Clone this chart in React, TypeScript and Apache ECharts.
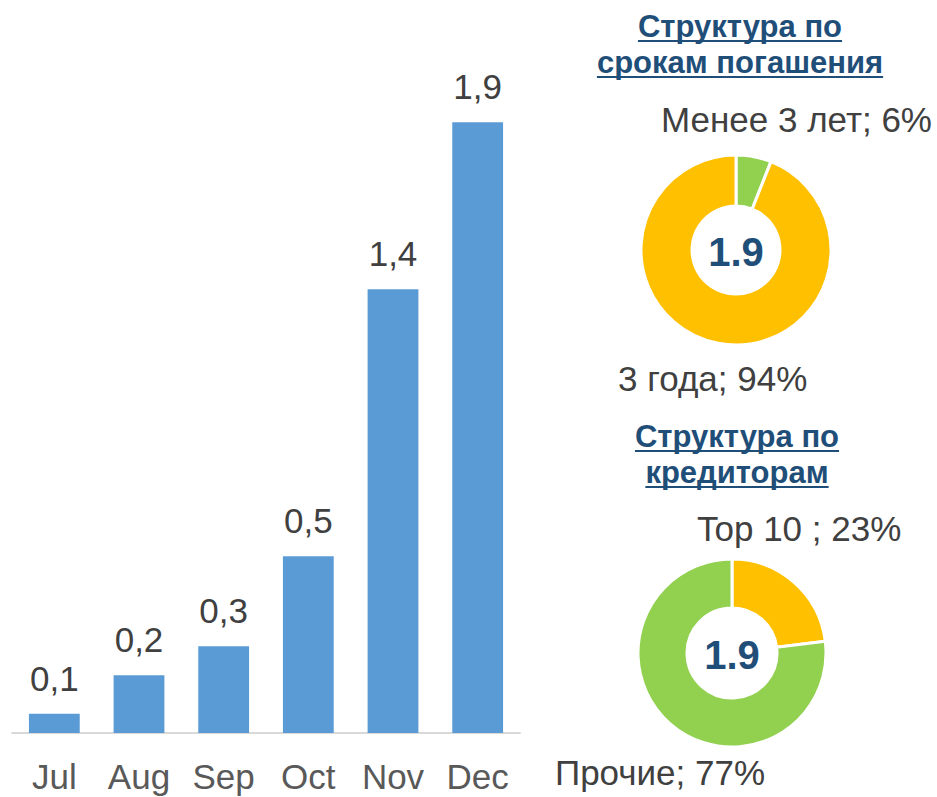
import React, { useEffect, useRef } from "react";
import * as echarts from "echarts";

const months = ["Jul", "Aug", "Sep", "Oct", "Nov", "Dec"];
const monthValues = [0.06, 0.18, 0.27, 0.55, 1.38, 1.9];
const monthLabels = ["0,1", "0,2", "0,3", "0,5", "1,4", "1,9"];

const maturityNames = ["Менее 3 лет", "3 года"];
const maturityShares = [6, 94];
const creditorNames = ["Top 10 ", "Прочие"];
const creditorShares = [23, 77];
const pieTotals = ["1.9", "1.9"];
const pieTitles = [["Структура по", "срокам погашения"], ["Структура по", "кредиторам"]];

const FONT = "'Liberation Sans', Arial, Helvetica, sans-serif";
const BLUE = "#5B9BD5";
const YELLOW = "#FFC000";
const GREEN = "#92D050";
const TITLE = "#1F4E79";
const TEXT = "#404040";

function measure(text: string, font: string): number {
  const c = document.createElement("canvas");
  const ctx = c.getContext("2d");
  if (!ctx) return text.length * 15;
  ctx.font = font;
  return ctx.measureText(text).width;
}

export default function App() {
  const ref = useRef<HTMLDivElement>(null);
  useEffect(() => {
    if (!ref.current) return;
    const chart = echarts.init(ref.current, null, { renderer: "svg" });

    const titleFont = `bold 31px ${FONT}`;
    const titlePos = [
      { x: 740, ys: [26, 62] },
      { x: 737, ys: [436, 472] },
    ];
    const titleGraphics: any[] = [];
    const underlines: any[] = [];
    pieTitles.forEach((lines, i) => {
      lines.forEach((line, j) => {
        const x = titlePos[i].x;
        const y = titlePos[i].ys[j];
        titleGraphics.push({
          type: "text",
          x,
          y,
          style: {
            text: line,
            fill: TITLE,
            font: titleFont,
            align: "center",
            verticalAlign: "middle",
          },
          z: 10,
        });
        const w = measure(line, titleFont);
        underlines.push({
          type: "line",
          shape: { x1: x - w / 2, y1: y + 15, x2: x + w / 2, y2: y + 15 },
          style: { stroke: TITLE, lineWidth: 2 },
          z: 10,
        });
      });
    });

    const centers = [
      [736, 250],
      [732, 653],
    ];
    const totalGraphics = pieTotals.map((t, i) => ({
      type: "text",
      x: centers[i][0],
      y: centers[i][1] + 2,
      style: {
        text: t,
        fill: TITLE,
        font: `bold 40px ${FONT}`,
        align: "center",
        verticalAlign: "middle",
      },
      z: 10,
    }));

    const labelPos1 = [
      { x: 932, y: 119, align: "right" },
      { x: 618, y: 378, align: "left" },
    ];
    const labelPos2 = [
      { x: 697, y: 528, align: "left" },
      { x: 555, y: 772, align: "left" },
    ];

    const pieSeries = (names: string[], shares: number[], colors: string[], center: number[], radius: number[], pos: any[]) => ({
      type: "pie",
      center,
      radius,
      startAngle: 90,
      clockwise: true,
      avoidLabelOverlap: false,
      data: names.map((n, i) => ({ name: n, value: shares[i], itemStyle: { color: colors[i] } })),
      itemStyle: { borderColor: "#fff", borderWidth: 3 },
      label: {
        show: true,
        position: "outside",
        formatter: (p: any) => `${p.name}; ${p.value}%`,
        color: TEXT,
        fontFamily: FONT,
        fontSize: 35,
      },
      labelLine: { show: false },
      labelLayout: (p: any) => ({
        x: pos[p.dataIndex].x,
        y: pos[p.dataIndex].y,
        align: pos[p.dataIndex].align,
        verticalAlign: "middle",
      }),
      emphasis: { disabled: true },
    });

    chart.setOption({
      animation: false,
      grid: { left: 12, right: 417, top: 90, bottom: 64, containLabel: false },
      xAxis: {
        type: "category",
        data: months,
        axisLine: { lineStyle: { color: "#D9D9D9", width: 2 } },
        axisTick: { show: false },
        axisLabel: {
          interval: 0,
          hideOverlap: false,
          color: "#595959",
          fontFamily: FONT,
          fontSize: 35,
          lineHeight: 35,
          margin: 26,
        },
      },
      yAxis: {
        type: "value",
        min: 0,
        max: 2,
        show: false,
        splitLine: { show: false },
      },
      series: [
        {
          type: "bar",
          data: monthValues,
          barWidth: "60%",
          itemStyle: { color: BLUE },
          label: {
            show: true,
            position: "top",
            distance: 18,
            formatter: (p: any) => monthLabels[p.dataIndex],
            color: TEXT,
            fontFamily: FONT,
            fontSize: 35,
          },
          emphasis: { disabled: true },
        },
        pieSeries(maturityNames, maturityShares, [GREEN, YELLOW], centers[0], [44, 95], labelPos1),
        pieSeries(creditorNames, creditorShares, [YELLOW, GREEN], centers[1], [45, 94], labelPos2),
      ],
      graphic: [...titleGraphics, ...underlines, ...totalGraphics],
    });

    return () => chart.dispose();
  }, []);

  return (
    <div
      ref={ref}
      style={{ position: "fixed", left: 0, top: 0, width: 937, height: 797, background: "#fff" }}
    />
  );
}
